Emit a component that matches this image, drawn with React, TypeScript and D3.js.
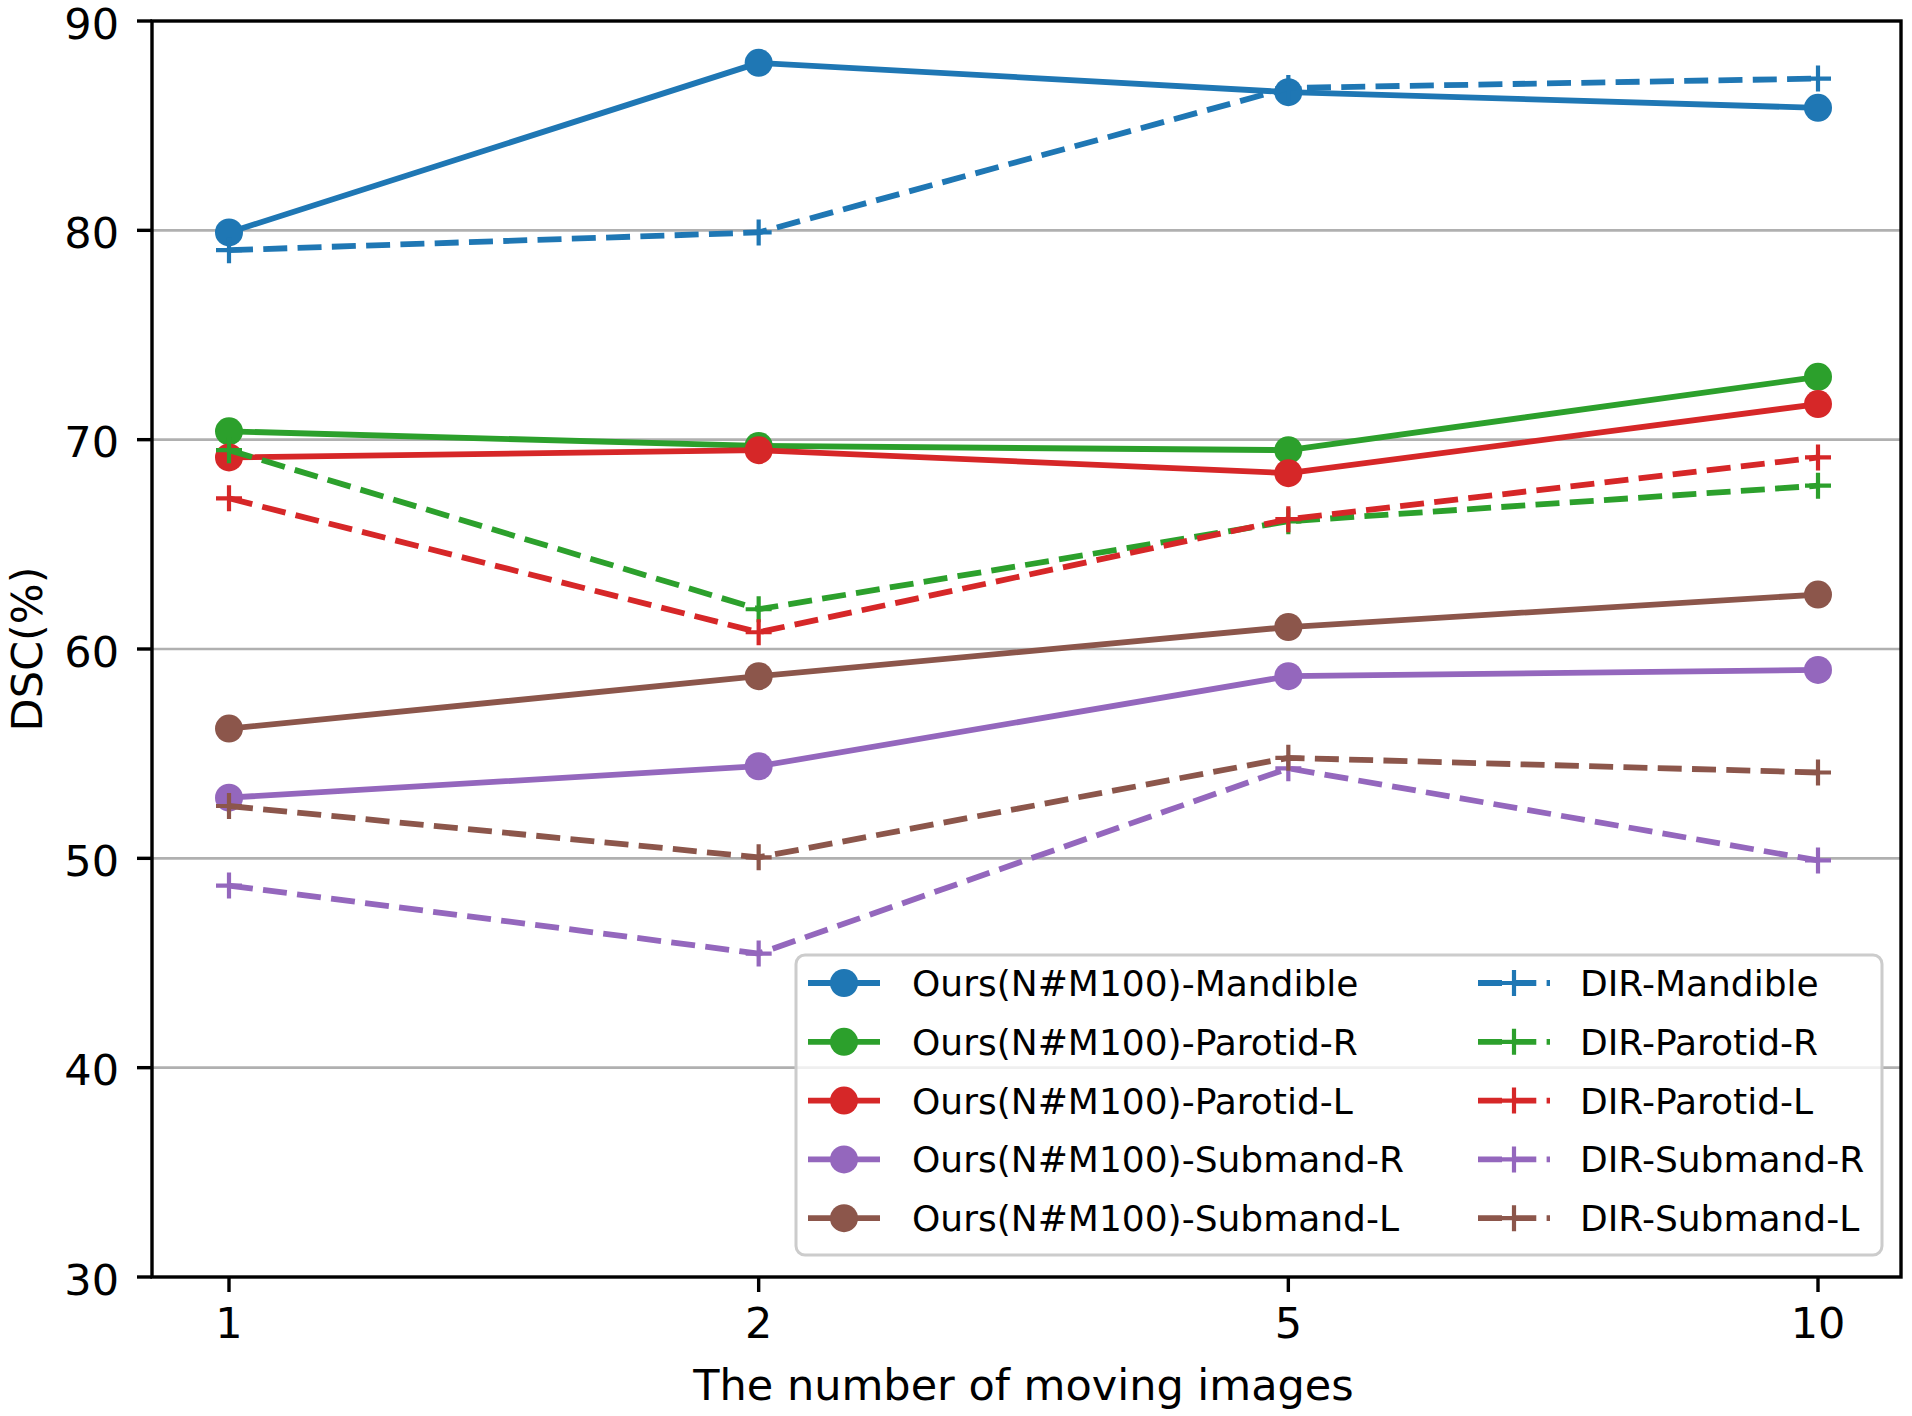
import React from "react";
import * as d3 from "d3";

const categories = ["1", "2", "5", "10"];
const yTicks = [30, 40, 50, 60, 70, 80, 90];

const oursMandible = [79.9, 88.0, 86.6, 85.85];
const oursParotidR = [70.4, 69.7, 69.5, 73.0];
const oursParotidL = [69.15, 69.5, 68.4, 71.7];
const oursSubmandR = [52.9, 54.4, 58.7, 59.0];
const oursSubmandL = [56.2, 58.7, 61.05, 62.6];

const dirMandible = [79.05, 79.9, 86.8, 87.25];
const dirParotidR = [69.5, 61.9, 66.1, 67.8];
const dirParotidL = [67.2, 60.8, 66.2, 69.15];
const dirSubmandR = [48.7, 45.45, 54.3, 49.9];
const dirSubmandL = [52.5, 50.05, 54.8, 54.1];

const seriesNames = [
  "Ours(N#M100)-Mandible",
  "Ours(N#M100)-Parotid-R",
  "Ours(N#M100)-Parotid-L",
  "Ours(N#M100)-Submand-R",
  "Ours(N#M100)-Submand-L",
  "DIR-Mandible",
  "DIR-Parotid-R",
  "DIR-Parotid-L",
  "DIR-Submand-R",
  "DIR-Submand-L",
];
const seriesValues = [
  oursMandible, oursParotidR, oursParotidL, oursSubmandR, oursSubmandL,
  dirMandible, dirParotidR, dirParotidL, dirSubmandR, dirSubmandL,
];
const colors = ["#1f77b4", "#2ca02c", "#d62728", "#9467bd", "#8c564b"];

const W = 1912;
const H = 1416;
const L = 152, R = 1901, T = 21, B = 1277;
const FONT = "DejaVu Sans";
const FS = 43;
const LFS = 36;

export default function App() {
  const x = d3.scaleLinear().domain([0, 3]).range([229, 1818]);
  const y = d3.scaleLinear().domain([30, 90]).range([B, T]);
  const line = d3.line<number>().x((_, i) => x(i)).y((d) => y(d));

  const series = seriesNames.map((name, k) => ({
    name,
    values: seriesValues[k],
    color: colors[k % 5],
    dashed: k >= 5,
  }));

  const plus = (cx: number, cy: number, color: string, key: string) => (
    <path key={key} d={`M${cx - 13},${cy}H${cx + 13}M${cx},${cy - 13}V${cy + 13}`} stroke={color} strokeWidth={4.2} fill="none" />
  );

  const legX0 = 796, legY0 = 955, legX1 = 1882, legY1 = 1255;
  const rowY = (r: number) => 983 + r * 58.8;
  const colHandleX = [808, 1478];
  const colTextX = [912, 1580];

  return (
    <svg width={W} height={H} style={{ position: "absolute", left: 0, top: 0, display: "block", background: "#fff" }} fontFamily={FONT}>
      <rect x={0} y={0} width={W} height={H} fill="#fff" />
      {yTicks.filter((t) => t > 30 && t < 90).map((t) => (
        <line key={"g" + t} x1={L} x2={R} y1={y(t)} y2={y(t)} stroke="#b0b0b0" strokeWidth={2.6} />
      ))}
      {series.map((s, k) => (
        <g key={"s" + k}>
          <path d={line(s.values) || ""} fill="none" stroke={s.color} strokeWidth={5.8}
            strokeDasharray={s.dashed ? "24,10.3" : undefined} strokeLinecap="butt" strokeLinejoin="round" />
          {s.values.map((v, i) =>
            s.dashed ? plus(x(i), y(v), s.color, "p" + k + "_" + i)
              : <circle key={"c" + k + "_" + i} cx={x(i)} cy={y(v)} r={14} fill={s.color} />
          )}
        </g>
      ))}
      <rect x={L} y={T} width={R - L} height={B - T} fill="none" stroke="#000" strokeWidth={3.4} />
      {yTicks.map((t) => (
        <g key={"yt" + t}>
          <line x1={L - 15} x2={L} y1={y(t)} y2={y(t)} stroke="#000" strokeWidth={3.4} />
          <text x={119} y={y(t) + 17.5} fontSize={FS} textAnchor="end" fill="#000">{t}</text>
        </g>
      ))}
      {categories.map((c, i) => (
        <g key={"xt" + c}>
          <line x1={x(i)} x2={x(i)} y1={B} y2={B + 15} stroke="#000" strokeWidth={3.4} />
          <text x={x(i)} y={1338} fontSize={FS} textAnchor="middle" fill="#000">{c}</text>
        </g>
      ))}
      <text x={(L + R) / 2 - 3} y={1400} fontSize={FS} textAnchor="middle" fill="#000">The number of moving images</text>
      <text transform={`translate(42,${(T + B) / 2}) rotate(-90)`} fontSize={FS} textAnchor="middle" fill="#000">DSC(%)</text>
      <rect x={legX0} y={legY0} width={legX1 - legX0} height={legY1 - legY0} rx={9} ry={9}
        fill="#fff" fillOpacity={0.8} stroke="#cccccc" strokeWidth={3} />
      {series.map((s, k) => {
        const col = k < 5 ? 0 : 1;
        const row = k % 5;
        const cy = rowY(row);
        const hx = colHandleX[col];
        return (
          <g key={"lg" + k}>
            <line x1={hx} x2={hx + 72} y1={cy} y2={cy} stroke={s.color} strokeWidth={5.8}
              strokeDasharray={s.dashed ? "24,10.3" : undefined} />
            {s.dashed ? plus(hx + 36, cy, s.color, "lp" + k) : <circle cx={hx + 36} cy={cy} r={14} fill={s.color} />}
            <text x={colTextX[col]} y={cy + 13} fontSize={LFS} fill="#000">{s.name}</text>
          </g>
        );
      })}
    </svg>
  );
}
